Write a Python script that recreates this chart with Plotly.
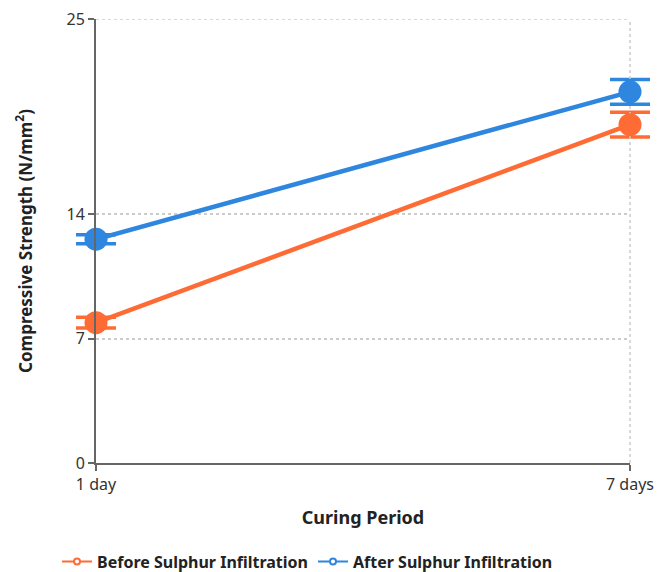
import plotly.graph_objects as go

periods = ["1 day", "7 days"]
before_vals = [7.9, 19.05]
before_err = [0.3, 0.7]
after_vals = [12.6, 20.9]
after_err = [0.25, 0.7]
y_ticks = [0, 7, 14, 25]

ORANGE = "#FF6B35"
BLUE = "#2E86DE"
FONT = "Noto Sans"
GRID = "#cccccc"
DASH = "3px,3px"
CAP_HALF = 20  # px

fig = go.Figure()

series = [
    ("Before Sulphur Infiltration", before_vals, before_err, ORANGE),
    ("After Sulphur Infiltration", after_vals, after_err, BLUE),
]

for name, vals, err, color in series:
    fig.add_trace(go.Scatter(
        x=periods, y=vals, mode="lines+markers", name=name,
        line=dict(color=color, width=4.5),
        marker=dict(color=color, size=23),
        showlegend=False, cliponaxis=False,
    ))
    # error bars: drawn as shapes so the caps are not clipped at the plot edges
    for i, (v, e) in enumerate(zip(vals, err)):
        xa = i / (len(periods) - 1)
        common = dict(type="line", xref="paper", yref="y", xsizemode="pixel",
                      xanchor=xa, layer="between", line=dict(color=color, width=3.5))
        fig.add_shape(x0=-CAP_HALF, x1=CAP_HALF, y0=v + e, y1=v + e, **common)
        fig.add_shape(x0=-CAP_HALF, x1=CAP_HALF, y0=v - e, y1=v - e, **common)
        fig.add_shape(x0=0, x1=0, y0=v - e, y1=v + e, **common)
    # small open-circle legend entry
    fig.add_trace(go.Scatter(
        x=[None], y=[None], mode="lines+markers", name=name,
        line=dict(color=color, width=2),
        marker=dict(color="white", size=6, line=dict(color=color, width=2)),
        showlegend=True,
    ))

# grid lines at the range ends (plotly skips those)
fig.add_shape(type="line", xref="paper", yref="y", x0=0, x1=1,
              y0=y_ticks[-1], y1=y_ticks[-1], layer="below",
              line=dict(color=GRID, width=1.5, dash=DASH))
fig.add_shape(type="line", xref="paper", yref="paper", x0=1, x1=1, y0=0, y1=1,
              layer="below", line=dict(color=GRID, width=1.5, dash=DASH))

fig.update_layout(
    width=671, height=572,
    margin=dict(l=96, r=41, t=19, b=109, autoexpand=False),
    paper_bgcolor="white", plot_bgcolor="white",
    font=dict(family=FONT, size=16, color="#333"),
    showlegend=True,
    legend=dict(orientation="h", x=-0.073, xanchor="left", y=-0.222, yanchor="middle",
                font=dict(family=FONT, size=16, color="#222", weight="bold"),
                itemwidth=30, tracegroupgap=0),
    xaxis=dict(
        type="category", range=[0, 1],
        showline=True, linecolor="#666", linewidth=2,
        ticks="outside", ticklen=6, tickcolor="#666", tickwidth=1.5,
        showgrid=True, gridcolor=GRID, griddash=DASH, gridwidth=1.5,
        tickfont=dict(size=16, color="#333"),
        title=dict(text="Curing Period", font=dict(size=18, color="#222", weight="bold"), standoff=17),
    ),
    yaxis=dict(
        range=[0, 25], tickvals=y_ticks,
        showline=True, linecolor="#666", linewidth=2,
        ticks="outside", ticklen=6, tickcolor="#666", tickwidth=1.5,
        showgrid=True, gridcolor=GRID, griddash=DASH, gridwidth=1.5,
        zeroline=False,
        tickfont=dict(size=16, color="#333"),
        title=dict(text="Compressive Strength (N/mm<sup>2</sup>)",
                   font=dict(size=17, color="#222", weight="bold"), standoff=30),
    ),
)

fig.write_html("out.html")
